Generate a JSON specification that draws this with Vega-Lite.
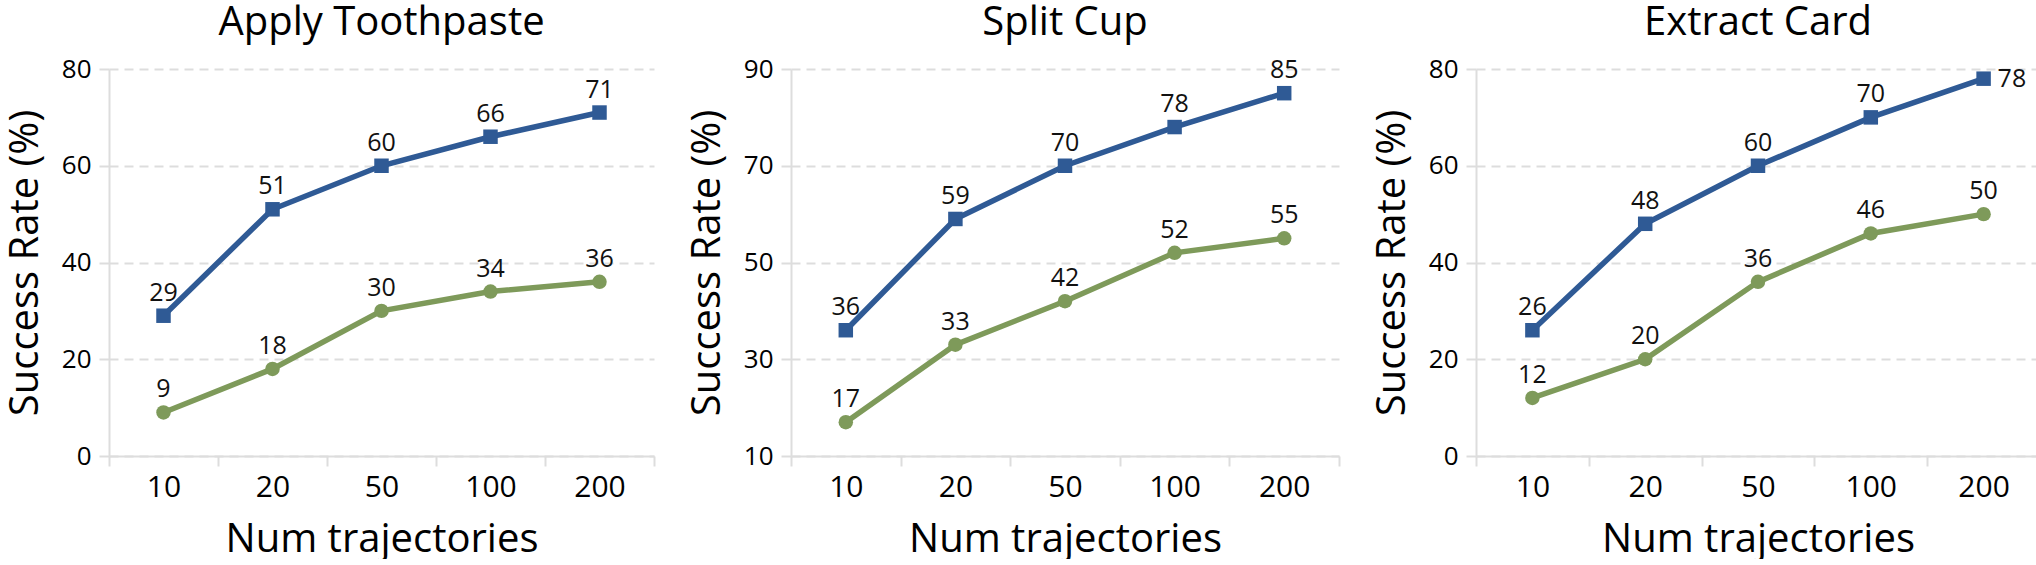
{
  "$schema": "https://vega.github.io/schema/vega-lite/v6.json",
  "padding": {"left": 5, "right": 0, "top": 3, "bottom": 0},
  "background": "white",
  "datasets": {
    "rates": [
      {"task": "Apply Toothpaste", "method": "Method A", "n": 10, "rate": 29},
      {"task": "Apply Toothpaste", "method": "Method A", "n": 20, "rate": 51},
      {"task": "Apply Toothpaste", "method": "Method A", "n": 50, "rate": 60},
      {"task": "Apply Toothpaste", "method": "Method A", "n": 100, "rate": 66},
      {"task": "Apply Toothpaste", "method": "Method A", "n": 200, "rate": 71},
      {"task": "Apply Toothpaste", "method": "Method B", "n": 10, "rate": 9},
      {"task": "Apply Toothpaste", "method": "Method B", "n": 20, "rate": 18},
      {"task": "Apply Toothpaste", "method": "Method B", "n": 50, "rate": 30},
      {"task": "Apply Toothpaste", "method": "Method B", "n": 100, "rate": 34},
      {"task": "Apply Toothpaste", "method": "Method B", "n": 200, "rate": 36},
      {"task": "Split Cup", "method": "Method A", "n": 10, "rate": 36},
      {"task": "Split Cup", "method": "Method A", "n": 20, "rate": 59},
      {"task": "Split Cup", "method": "Method A", "n": 50, "rate": 70},
      {"task": "Split Cup", "method": "Method A", "n": 100, "rate": 78},
      {"task": "Split Cup", "method": "Method A", "n": 200, "rate": 85},
      {"task": "Split Cup", "method": "Method B", "n": 10, "rate": 17},
      {"task": "Split Cup", "method": "Method B", "n": 20, "rate": 33},
      {"task": "Split Cup", "method": "Method B", "n": 50, "rate": 42},
      {"task": "Split Cup", "method": "Method B", "n": 100, "rate": 52},
      {"task": "Split Cup", "method": "Method B", "n": 200, "rate": 55},
      {"task": "Extract Card", "method": "Method A", "n": 10, "rate": 26},
      {"task": "Extract Card", "method": "Method A", "n": 20, "rate": 48},
      {"task": "Extract Card", "method": "Method A", "n": 50, "rate": 60},
      {"task": "Extract Card", "method": "Method A", "n": 100, "rate": 70},
      {"task": "Extract Card", "method": "Method A", "n": 200, "rate": 78},
      {"task": "Extract Card", "method": "Method B", "n": 10, "rate": 12},
      {"task": "Extract Card", "method": "Method B", "n": 20, "rate": 20},
      {"task": "Extract Card", "method": "Method B", "n": 50, "rate": 36},
      {"task": "Extract Card", "method": "Method B", "n": 100, "rate": 46},
      {"task": "Extract Card", "method": "Method B", "n": 200, "rate": 50}
    ]
  },
  "spacing": 32,
  "hconcat": [
    {
      "title": "Apply Toothpaste",
      "width": 545,
      "height": 387,
      "data": {"name": "rates"},
      "transform": [{"filter": "datum.task === 'Apply Toothpaste'"}],
      "encoding": {
        "x": {"field": "n", "type": "ordinal", "bandPosition": 0.5, "title": "Num trajectories",
              "scale": {"type": "band", "paddingInner": 0, "paddingOuter": 0}},
        "y": {"field": "rate", "type": "quantitative", "title": "Success Rate (%)",
              "scale": {"domain": [0, 80], "nice": false},
              "axis": {"values": [0, 20, 40, 60, 80]}},
        "color": {"field": "method", "type": "nominal", "legend": null,
                  "scale": {"domain": ["Method A", "Method B"], "range": ["#2f5a95", "#7e9a5a"]}}
      },
      "layer": [
        {"mark": {"type": "line", "strokeWidth": 5.5}},
        {"mark": {"type": "point", "filled": true, "opacity": 1, "size": 210},
         "encoding": {"shape": {"field": "method", "type": "nominal", "legend": null,
                      "scale": {"domain": ["Method A", "Method B"], "range": ["square", "circle"]}}}},
        {"mark": {"type": "text", "dy": -23, "fontSize": 25, "fontWeight": 500, "color": "#111111"},
         "encoding": {"text": {"field": "rate", "type": "quantitative"}, "color": {"value": "#111111"}}}
      ]
    },
    {
      "title": "Split Cup",
      "width": 548,
      "height": 387,
      "data": {"name": "rates"},
      "transform": [{"filter": "datum.task === 'Split Cup'"}],
      "encoding": {
        "x": {"field": "n", "type": "ordinal", "bandPosition": 0.5, "title": "Num trajectories",
              "scale": {"type": "band", "paddingInner": 0, "paddingOuter": 0}},
        "y": {"field": "rate", "type": "quantitative", "title": "Success Rate (%)",
              "scale": {"domain": [10, 90], "nice": false},
              "axis": {"values": [10, 30, 50, 70, 90]}},
        "color": {"field": "method", "type": "nominal", "legend": null,
                  "scale": {"domain": ["Method A", "Method B"], "range": ["#2f5a95", "#7e9a5a"]}}
      },
      "layer": [
        {"mark": {"type": "line", "strokeWidth": 5.5}},
        {"mark": {"type": "point", "filled": true, "opacity": 1, "size": 210},
         "encoding": {"shape": {"field": "method", "type": "nominal", "legend": null,
                      "scale": {"domain": ["Method A", "Method B"], "range": ["square", "circle"]}}}},
        {"mark": {"type": "text", "dy": -23, "fontSize": 25, "fontWeight": 500, "color": "#111111"},
         "encoding": {"text": {"field": "rate", "type": "quantitative"}, "color": {"value": "#111111"}}}
      ]
    },
    {
      "title": "Extract Card",
      "width": 564,
      "height": 387,
      "data": {"name": "rates"},
      "transform": [{"filter": "datum.task === 'Extract Card'"}],
      "encoding": {
        "x": {"field": "n", "type": "ordinal", "bandPosition": 0.5, "title": "Num trajectories",
              "scale": {"type": "band", "paddingInner": 0, "paddingOuter": 0}},
        "y": {"field": "rate", "type": "quantitative", "title": "Success Rate (%)",
              "scale": {"domain": [0, 80], "nice": false},
              "axis": {"values": [0, 20, 40, 60, 80]}},
        "color": {"field": "method", "type": "nominal", "legend": null,
                  "scale": {"domain": ["Method A", "Method B"], "range": ["#2f5a95", "#7e9a5a"]}}
      },
      "layer": [
        {"mark": {"type": "line", "strokeWidth": 5.5}},
        {"mark": {"type": "point", "filled": true, "opacity": 1, "size": 210},
         "encoding": {"shape": {"field": "method", "type": "nominal", "legend": null,
                      "scale": {"domain": ["Method A", "Method B"], "range": ["square", "circle"]}}}},
        {"transform": [{"filter": "!(datum.method === 'Method A' && datum.n === 200)"}],
         "mark": {"type": "text", "dy": -23, "fontSize": 25, "fontWeight": 500, "color": "#111111"},
         "encoding": {"text": {"field": "rate", "type": "quantitative"}, "color": {"value": "#111111"}}},
        {"transform": [{"filter": "datum.method === 'Method A' && datum.n === 200"}],
         "mark": {"type": "text", "align": "left", "baseline": "middle", "dx": 14, "dy": 0, "fontSize": 25, "fontWeight": 500, "color": "#111111"},
         "encoding": {"text": {"field": "rate", "type": "quantitative"}, "color": {"value": "#111111"}}}
      ]
    }
  ],
  "resolve": {"scale": {"y": "independent", "x": "independent"}},
  "config": {
    "font": "Open Sans",
    "view": {"stroke": null},
    "text": {"font": "Open Sans"},
    "title": {"fontSize": 40, "fontWeight": 500, "font": "Open Sans", "color": "#000000", "anchor": "middle", "baseline": "top", "offset": 13},
    "axis": {
      "domainColor": "#dddddd",
      "domainWidth": 2,
      "tickColor": "#dddddd",
      "tickWidth": 2,
      "tickSize": 10,
      "labelFont": "Open Sans",
      "labelColor": "#000000",
      "labelFontWeight": 500,
      "titleFont": "Open Sans",
      "titleColor": "#000000",
      "titleFontWeight": 500,
      "titleFontSize": 40
    },
    "axisX": {
      "grid": false,
      "labelAngle": 0,
      "labelFontSize": 30,
      "labelPadding": 6,
      "tickBand": "extent",
      "titlePadding": 17
    },
    "axisY": {
      "grid": true,
      "gridColor": "#dddddd",
      "gridWidth": 2,
      "gridDash": [9, 6],
      "labelFontSize": 26,
      "labelPadding": 8,
      "titlePadding": 16
    }
  }
}
